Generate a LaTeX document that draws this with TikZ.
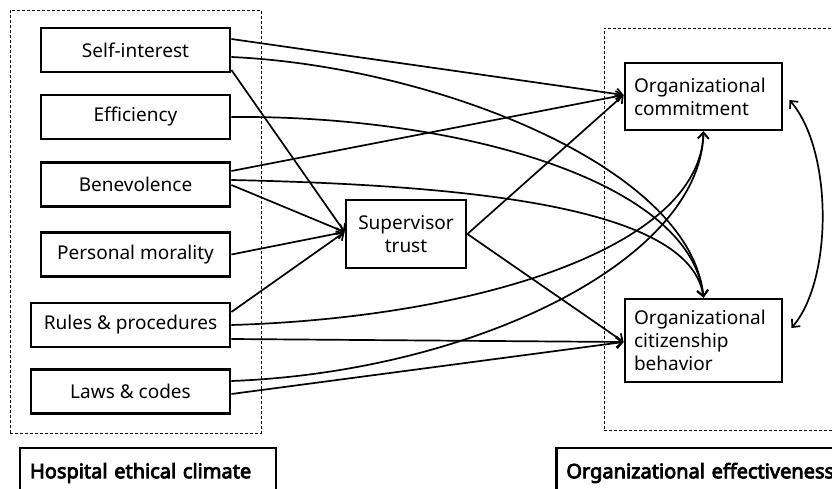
\documentclass[tikz,border=0pt]{standalone}
\usepackage{fontspec}
\setmainfont{Noto Sans}[BoldFont={Noto Sans}, BoldFeatures={FakeBold=4}]
\usetikzlibrary{arrows.meta}
\begin{document}
\begin{tikzpicture}[x=1pt,y=-1pt,
  box/.style={draw, line width=2.8pt, minimum height=44pt, inner sep=0pt, font=\fontsize{19}{23}\selectfont},
  rbox/.style={box, minimum width=157pt, text width=139pt, inner xsep=9pt, align=left},
  lbl/.style={draw, line width=2.8pt, minimum height=50pt, inner xsep=10pt, inner ysep=0pt, align=left, font=\fontsize{20}{24}\bfseries\selectfont},
  conn/.style={line width=1.7pt, -{Straight Barb[length=6pt,width=11pt,line width=1.7pt]}},
  grp/.style={draw, dash pattern=on 3pt off 2pt, line width=0.8pt, inner sep=0pt}]
\clip (0,0) rectangle (832,489);
\fill[white] (0,0) rectangle (832,489);
% groups
\node[grp, minimum width=251pt, minimum height=423pt] (g1) at (135.5,221.5) {};
\node[grp, minimum width=240pt, minimum height=402pt] (g2) at (724,229) {};
% left boxes
\node[box, minimum width=189pt] (SI) at (135.5,50) {Self-interest};
\node[box, minimum width=189pt] (EF) at (135.5,117) {Efficiency};
\node[box, minimum width=189pt] (BE) at (135.5,184.5) {Benevolence};
\node[box, minimum width=189pt] (PM) at (135.5,254.5) {Personal morality};
\node[box, minimum width=199pt] (RP) at (130.5,325) {Rules \& procedures};
\node[box, minimum width=199pt] (LC) at (130.5,391.5) {Laws \& codes};
% middle
\node[box, minimum width=120pt, minimum height=68pt, align=center] (ST) at (406,234) {Supervisor\\trust};
% right
\node[rbox, minimum height=67pt] (OC) at (703.5,96.5) {Organizational\\commitment};
\node[rbox, minimum height=83pt] (OCB) at (703.5,340.5) {Organizational\\citizenship\\behavior};
% group labels
\node[lbl, text width=236pt] (HEC) at (148,473) {Hospital ethical climate};
\node[lbl, text width=280pt, anchor=west] (OE) at (555,473) {Organizational effectiveness};
% connectors to OC
\draw[conn] ([yshift=11pt]SI.east) -- ([yshift=1.5pt]OC.west);
\draw[conn] ([yshift=13.5pt]BE.east) -- ([yshift=1.5pt]OC.west);
\draw[conn] (ST.east) -- ([yshift=1.5pt]OC.west);
\draw[conn] (RP.east) .. controls (470,318) and (700,250) .. (OC.south);
\draw[conn] ([yshift=10.5pt]LC.east) .. controls (470,372) and (700,262) .. (OC.south);
% connectors to OCB
\draw[conn] ([yshift=-7pt]SI.east) .. controls (430,66) and (690,165) .. (OCB.north);
\draw[conn] (EF.east) .. controls (450,115) and (690,178) .. (OCB.north);
\draw[conn] ([yshift=4.5pt]BE.east) .. controls (460,185) and (690,205) .. (OCB.north);
\draw[conn] ([yshift=-14pt]RP.east) -- ([yshift=-1.5pt]OCB.west);
\draw[conn] ([yshift=-2.5pt]LC.east) -- ([yshift=-1.5pt]OCB.west);
\draw[conn] (ST.east) -- ([yshift=-1.5pt]OCB.west);
% connectors to ST
\draw[conn] ([yshift=-20pt]SI.east) -- ([yshift=2pt]ST.west);
\draw[conn] ([yshift=-0.5pt]BE.east) -- ([yshift=2pt]ST.west);
\draw[conn] (PM.east) -- ([yshift=2pt]ST.west);
\draw[conn] ([yshift=13pt]RP.east) -- ([yshift=2pt]ST.west);
% correlation
\draw[line width=1.7pt, {Straight Barb[length=6pt,width=11pt,line width=1.7pt]}-{Straight Barb[length=6pt,width=11pt,line width=1.7pt]}]
  ([shift={(6pt,-3.5pt)}]OC.east) .. controls (833,150) and (833,280) .. ([shift={(8pt,12.5pt)}]OCB.east);
\end{tikzpicture}
\end{document}
